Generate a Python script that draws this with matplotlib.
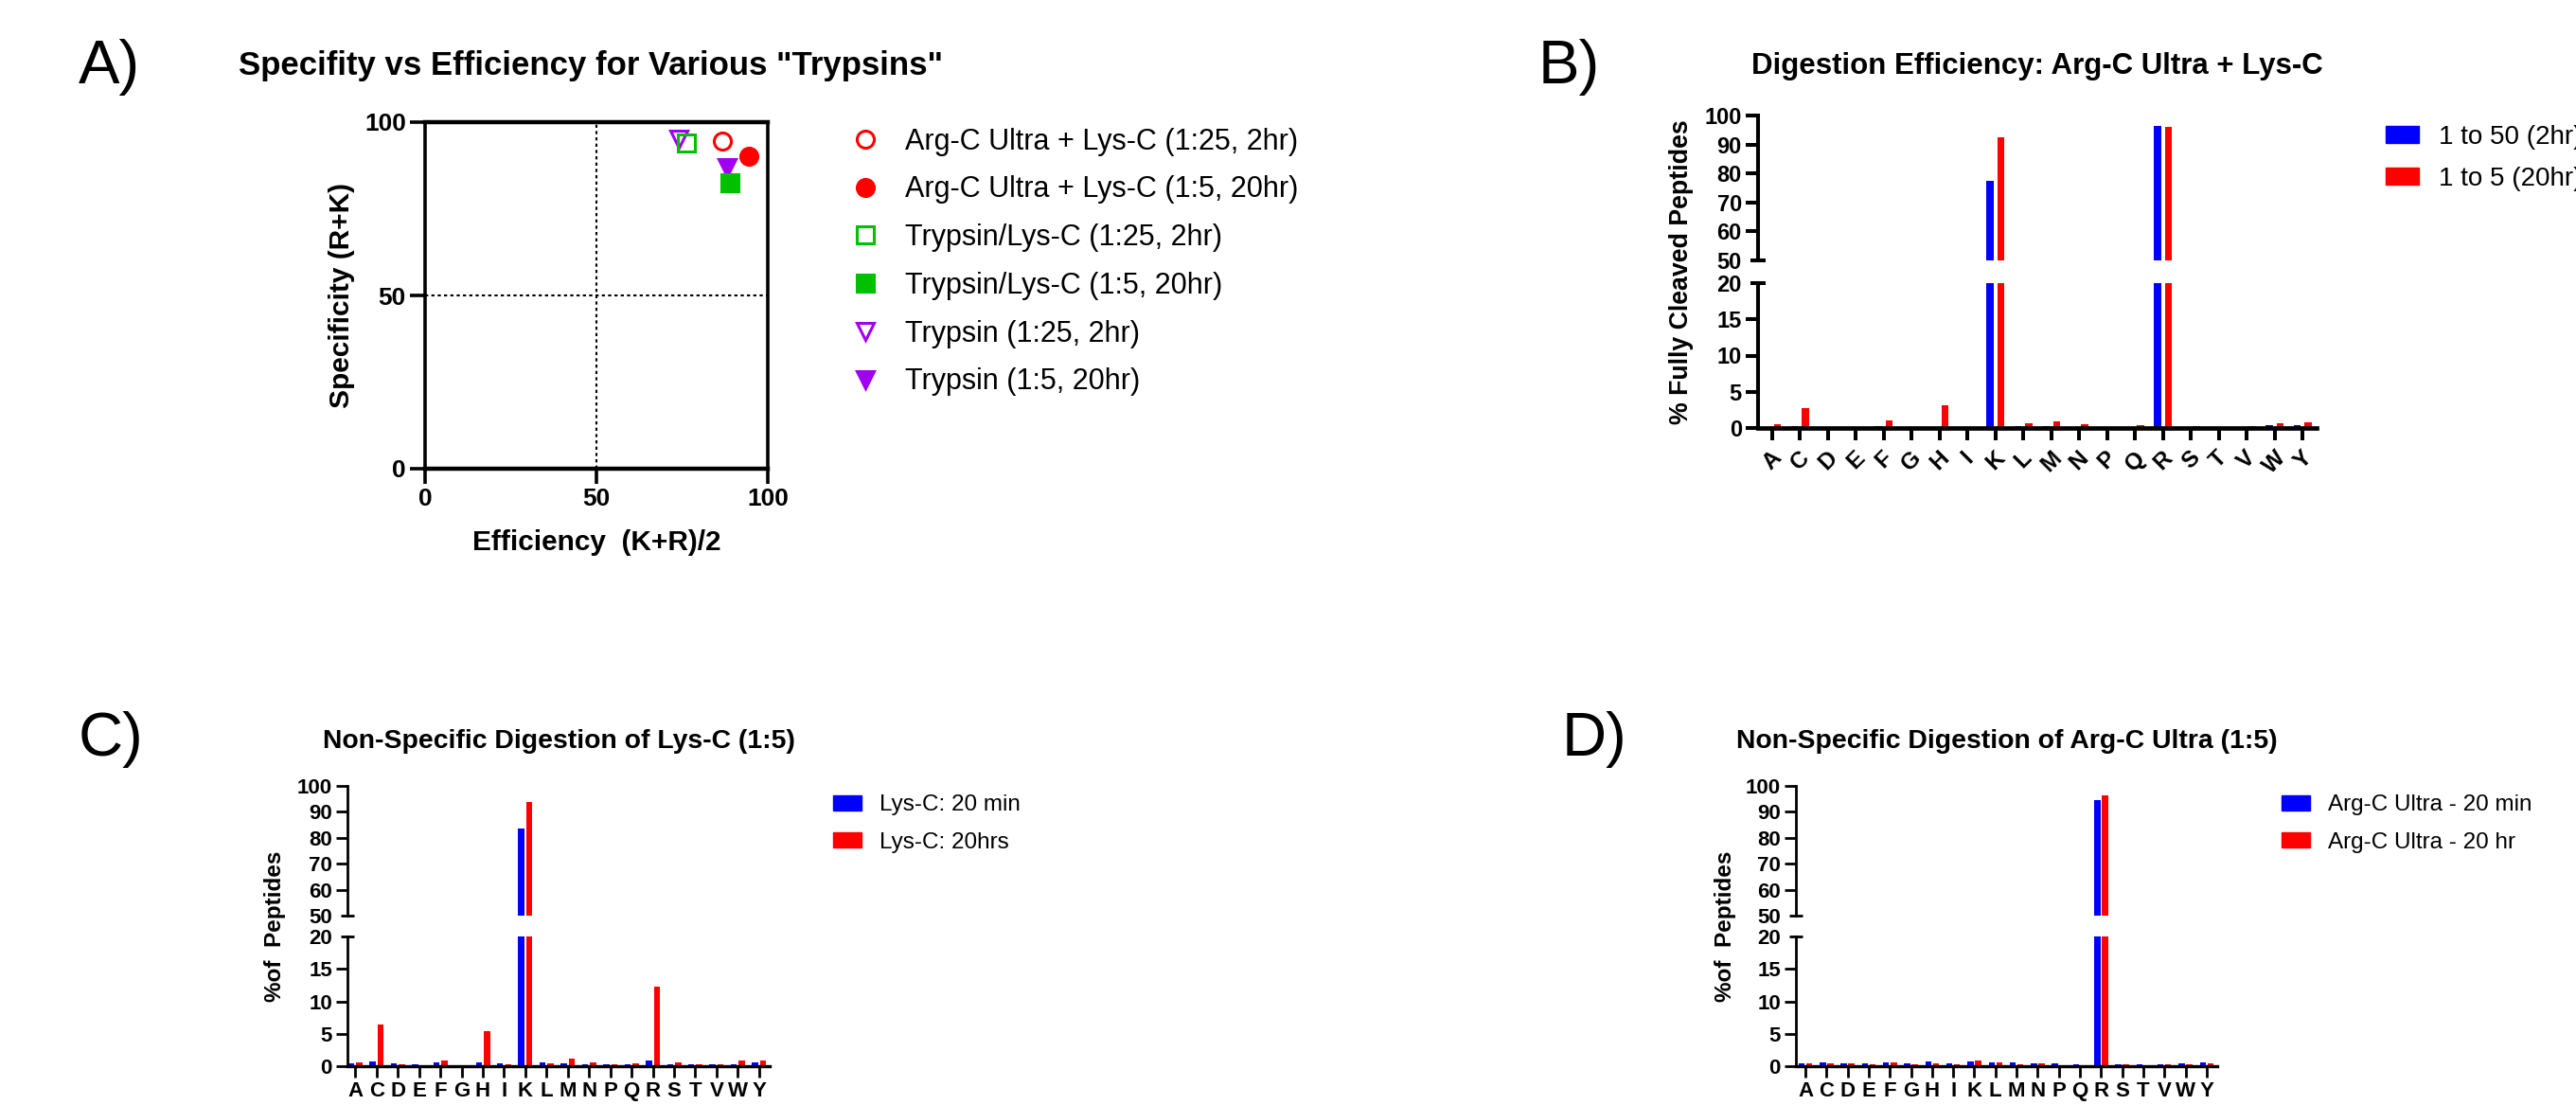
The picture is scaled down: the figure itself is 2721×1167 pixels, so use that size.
import numpy as np
import matplotlib
matplotlib.use('Agg')
import matplotlib.pyplot as plt
from matplotlib.patches import Patch

plt.rcParams['font.family'] = ['Liberation Sans', 'DejaVu Sans']
plt.rcParams['font.weight'] = 'bold'

# ---------------- data ----------------
amino_acids = ['A', 'C', 'D', 'E', 'F', 'G', 'H', 'I', 'K', 'L',
               'M', 'N', 'P', 'Q', 'R', 'S', 'T', 'V', 'W', 'Y']

# Panel A: specificity vs efficiency
a_series = ["Arg-C Ultra + Lys-C (1:25, 2hr)", "Arg-C Ultra + Lys-C (1:5, 20hr)",
            "Trypsin/Lys-C (1:25, 2hr)", "Trypsin/Lys-C (1:5, 20hr)",
            "Trypsin (1:25, 2hr)", "Trypsin (1:5, 20hr)"]
a_efficiency = [86.8, 94.4, 76.2, 88.9, 73.9, 88.2]
a_specificity = [94.5, 90.2, 94.1, 82.5, 95.1, 86.8]

# Panel B: digestion efficiency Arg-C Ultra + Lys-C
b_labels = ["1 to 50 (2hr)", "1 to 5 (20hr)"]
b_2hr = [0.1, 0.2, 0.1, 0.1, 0.2, 0.1, 0.1, 0.1, 77.5, 0.2,
         0.2, 0.1, 0.1, 0.1, 96.5, 0.1, 0.1, 0.1, 0.4, 0.4]
b_20hr = [0.5, 2.7, 0.1, 0.1, 1.0, 0.1, 3.1, 0.1, 92.5, 0.6,
          0.9, 0.5, 0.1, 0.4, 96.1, 0.25, 0.1, 0.2, 0.65, 0.75]

# Panel C: non-specific digestion of Lys-C (1:5)
c_labels = ["Lys-C: 20 min", "Lys-C: 20hrs"]
c_20min = [0.45, 0.7, 0.4, 0.3, 0.6, 0.2, 0.55, 0.45, 83.6, 0.6,
           0.4, 0.3, 0.3, 0.3, 0.85, 0.3, 0.25, 0.35, 0.35, 0.55]
c_20hr = [0.65, 6.4, 0.3, 0.2, 0.85, 0.2, 5.4, 0.35, 93.8, 0.5,
          1.1, 0.6, 0.3, 0.4, 12.3, 0.6, 0.3, 0.25, 0.9, 0.9]

# Panel D: non-specific digestion of Arg-C Ultra (1:5)
d_labels = ["Arg-C Ultra - 20 min", "Arg-C Ultra - 20 hr"]
d_20min = [0.5, 0.6, 0.4, 0.4, 0.6, 0.4, 0.7, 0.4, 0.7, 0.55,
           0.55, 0.4, 0.4, 0.35, 94.5, 0.35, 0.25, 0.35, 0.5, 0.6]
d_20hr = [0.4, 0.5, 0.4, 0.3, 0.6, 0.3, 0.5, 0.3, 0.9, 0.6,
          0.3, 0.4, 0.2, 0.2, 96.4, 0.35, 0.2, 0.3, 0.35, 0.5]

# ---------------- layout helpers ----------------
W, H = 2721, 1167
fig = plt.figure(figsize=(W / 100, H / 100), dpi=100)


def rect(x0, y0, x1, y1):
    return [x0 / W, 1 - y1 / H, (x1 - x0) / W, (y1 - y0) / H]


def fx(x):
    return x / W


def fy(y):
    return 1 - y / H


BLUE = '#0000FF'
RED = '#FF0000'
GREEN = '#00C000'
PURPLE = '#A000F0'

# ---------------- Panel A ----------------
axA = fig.add_axes(rect(449, 129, 811, 495))
a_styles = [(RED, 'o', False), (RED, 'o', True), (GREEN, 's', False),
            (GREEN, 's', True), (PURPLE, 'v', False), (PURPLE, 'v', True)]
for i, (lab, xv, yv, (col, mk, filled)) in enumerate(
        zip(a_series, a_efficiency, a_specificity, a_styles)):
    axA.plot([xv], [yv], linestyle='none', marker=mk, markersize=13,
             color=col, markerfacecolor=col if filled else 'none',
             markeredgewidth=2.2, label=lab, zorder=10 - i, clip_on=False)
axA.set_xlim(0, 100)
axA.set_ylim(0, 100)
axA.axvline(50, color='black', ls=(0, (1.6, 1.6)), lw=1.5, zorder=1)
axA.axhline(50, color='black', ls=(0, (1.6, 1.6)), lw=1.5, zorder=1)
axA.set_xticks([0, 50, 100])
axA.set_yticks([0, 50, 100])
for name, sp in axA.spines.items():
    sp.set_linewidth(3.2 if name in ('bottom', 'top') else 2.6)
axA.tick_params(width=2.6, length=11.5, labelsize=19, pad=3)
fig.text(fx(630), fy(573), 'Efficiency  (K+R)/2', ha='center', va='center',
         fontsize=21.5)
fig.text(fx(361), fy(312), 'Specificity (R+K)', ha='center', va='center',
         rotation=90, fontsize=21.5)
fig.text(fx(624), fy(70), 'Specifity vs Efficiency for Various "Trypsins"',
         ha='center', va='center', fontsize=25)
hA, lA = axA.get_legend_handles_labels()
fig.legend(hA, lA, loc='center left', bbox_to_anchor=(fx(896), fy(276.5)),
           frameon=False, prop={'weight': 'normal', 'size': 22},
           handlelength=1.2, handletextpad=0.76, labelspacing=0.68,
           borderpad=0, borderaxespad=0, numpoints=1)


# ---------------- broken bar panels ----------------
def broken_panel(x0, x1, ytop, yb1, yb2, ybot, xlim, blue, red, width, off,
                 spine_lw, bottom_lw, tick_len, brk_len, tick_w, ysize,
                 xsize, xrot, xpad):
    axU = fig.add_axes(rect(x0, ytop, x1, yb1))
    axL = fig.add_axes(rect(x0, yb2, x1, ybot))
    pos = np.arange(len(amino_acids))
    for ax in (axU, axL):
        ax.bar(pos - off, blue, width, color=BLUE, linewidth=0)
        ax.bar(pos + off, red, width, color=RED, linewidth=0)
        ax.set_xlim(*xlim)
        ax.set_facecolor('none')
        ax.spines['top'].set_visible(False)
        ax.spines['right'].set_visible(False)
        ax.spines['left'].set_linewidth(spine_lw)
    axU.spines['bottom'].set_visible(False)
    axL.spines['bottom'].set_linewidth(bottom_lw)
    axU.set_ylim(50, 100)
    axL.set_ylim(0, 20)
    axU.set_yticks([60, 70, 80, 90, 100])
    axU.set_yticks([50], labels=['50'], minor=True)
    axL.set_yticks([0, 5, 10, 15])
    axL.set_yticks([20], labels=['20'], minor=True)
    axU.tick_params(axis='x', which='both', bottom=False, labelbottom=False)
    pad = 3
    for ax in (axU, axL):
        ax.tick_params(axis='y', which='major', direction='out',
                       length=tick_len, width=tick_w, labelsize=ysize, pad=pad)
        ax.tick_params(axis='y', which='minor', direction='inout',
                       length=brk_len, width=tick_w, labelsize=ysize,
                       pad=pad + tick_len - brk_len / 2)
    axL.set_xticks(pos, amino_acids)
    axL.tick_params(axis='x', direction='out', length=tick_len, width=tick_w,
                    labelsize=xsize, labelrotation=xrot, pad=xpad)
    return axU, axL


# Panel B
broken_panel(1857, 2447, 122, 275, 299, 452, (-0.5, 19.5), b_2hr, b_20hr,
             0.26, 0.2, 2.9, 3.4, 9.4, 11, 2.9, 17, 17.5, 45, 5)
fig.text(fx(2152), fy(70), 'Digestion Efficiency: Arg-C Ultra + Lys-C',
         ha='center', va='center', fontsize=22.5)
fig.text(fx(1776), fy(287), '% Fully Cleaved Peptides', ha='center',
         va='center', rotation=90, fontsize=19.3)
fig.legend([Patch(color=BLUE), Patch(color=RED)], b_labels,
           loc='center left', bbox_to_anchor=(fx(2520), fy(167)),
           frameon=False, prop={'weight': 'normal', 'size': 20},
           handlelength=1.26, handleheight=0.61, handletextpad=0.76,
           labelspacing=0.64, borderpad=0, borderaxespad=0)

# Panel C
broken_panel(367, 813, 830, 967, 989, 1126, (-0.375, 19.5), c_20min, c_20hr,
             0.29, 0.19, 2.0, 2.4, 8.6, 10, 2.0, 16, 16, 0, 3.2)
fig.text(fx(590), fy(783), 'Non-Specific Digestion of Lys-C (1:5)',
         ha='center', va='center', fontsize=20.4)
fig.text(fx(291), fy(978), '%of  Peptides', ha='center', va='center',
         rotation=90, fontsize=17.5)
fig.legend([Patch(color=BLUE), Patch(color=RED)], c_labels,
           loc='center left', bbox_to_anchor=(fx(880), fy(870)),
           frameon=False, prop={'weight': 'normal', 'size': 17.5},
           handlelength=1.23, handleheight=0.66, handletextpad=0.78,
           labelspacing=0.71, borderpad=0, borderaxespad=0)

# Panel D
broken_panel(1897, 2342, 830, 967, 989, 1126, (-0.45, 19.5), d_20min, d_20hr,
             0.29, 0.18, 2.0, 2.4, 8.6, 10, 2.0, 16, 16, 0, 3.2)
fig.text(fx(2120), fy(783), 'Non-Specific Digestion of Arg-C Ultra (1:5)',
         ha='center', va='center', fontsize=20.4)
fig.text(fx(1822), fy(978), '%of  Peptides', ha='center', va='center',
         rotation=90, fontsize=17.5)
fig.legend([Patch(color=BLUE), Patch(color=RED)], d_labels,
           loc='center left', bbox_to_anchor=(fx(2410), fy(870)),
           frameon=False, prop={'weight': 'normal', 'size': 17.5},
           handlelength=1.23, handleheight=0.66, handletextpad=0.78,
           labelspacing=0.71, borderpad=0, borderaxespad=0)

# Panel letters
for txt, x, y in [('A)', 83, 88), ('B)', 1625, 88), ('C)', 83, 798),
                  ('D)', 1650, 798)]:
    fig.text(fx(x), fy(y), txt, ha='left', va='baseline', fontsize=47,
             fontweight='normal')

fig.savefig('out.png', dpi=100, facecolor='white')
